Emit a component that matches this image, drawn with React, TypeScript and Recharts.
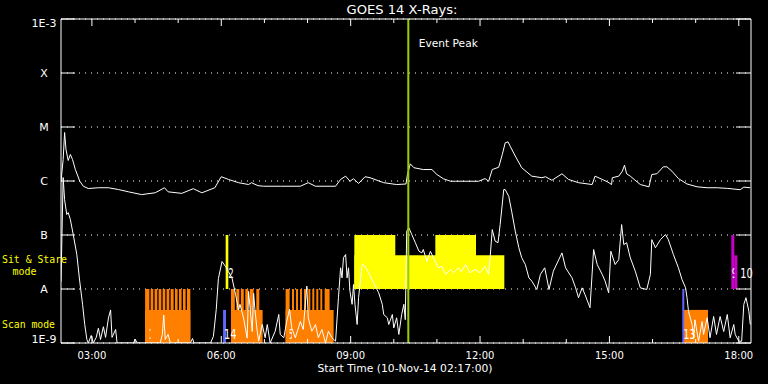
import React from 'react';
import {
  ComposedChart,
  Line,
  XAxis,
  YAxis,
  CartesianGrid,
  ReferenceArea,
  ReferenceLine,
} from 'recharts';

// ---------- data (time in minutes of day, flux in W/m^2) ----------
const hourTicks = [180, 240, 300, 360, 420, 480, 540, 600, 660, 720, 780, 840, 900, 960, 1020, 1080];
const majorTicks = [180, 360, 540, 720, 900, 1080];
const majorLabels = ['03:00', '06:00', '09:00', '12:00', '15:00', '18:00'];
const fluxTicks = [1e-9, 1e-8, 1e-7, 1e-6, 1e-5, 1e-4, 1e-3];
const fluxLabels = ['1E-9', 'A', 'B', 'C', 'M', 'X', '1E-3'];
const eventPeak = 620.2;

const longChannel: [number, number][] = [
  [137, 9.8e-7], [140, 2.5e-6], [142, 7.9e-6], [144, 3.8e-6], [147, 2.4e-6], [150, 3.1e-6], [153, 2.5e-6], [157, 1.63e-6], [163, 1.0e-6], [168, 8.0e-7],
  [175, 7.25e-7], [189, 7.5e-7], [203, 7.5e-7], [217, 6.95e-7], [231, 6.3e-7], [249, 5.6e-7], [268, 6.05e-7], [281, 7.5e-7], [286, 6.3e-7], [305, 5.9e-7],
  [321, 7.2e-7], [333, 6.05e-7], [351, 7.5e-7], [360, 1.2e-6], [370, 1.07e-6], [384, 9.3e-7], [398, 8.6e-7], [402, 9.3e-7], [411, 8.2e-7], [419, 8.0e-7],
  [442, 8.0e-7], [470, 8.0e-7], [481, 9.3e-7], [491, 8.0e-7], [519, 8.0e-7], [526, 1.07e-6], [533, 1.23e-6], [539, 9.9e-7], [544, 1.1e-6], [551, 9.0e-7],
  [560, 1.2e-6], [567, 1.15e-6], [586, 9.3e-7], [604, 8.6e-7], [617, 8.8e-7], [619, 1.32e-6], [623, 2.08e-6], [628, 1.76e-6], [641, 1.63e-6], [653, 1.63e-6],
  [660, 1.32e-6], [669, 1.1e-6], [679, 9.9e-7], [686, 9.9e-7], [718, 9.9e-7], [727, 1.11e-6], [732, 9.9e-7], [737, 1.63e-6], [746, 1.8e-6], [751, 3.1e-6],
  [755, 5.1e-6], [759, 5.3e-6], [762, 4.4e-6], [769, 2.9e-6], [778, 1.76e-6], [792, 1.23e-6], [806, 1.15e-6], [811, 1.2e-6], [820, 1.03e-6], [834, 1.36e-6],
  [843, 1.07e-6], [857, 9.3e-7], [876, 8.6e-7], [880, 1.23e-6], [890, 1.07e-6], [897, 9.7e-7], [903, 8.6e-7], [904, 1.15e-6], [913, 1.23e-6], [918, 1.52e-6],
  [921, 1.96e-6], [924, 1.36e-6], [929, 1.23e-6], [943, 8.6e-7], [955, 7.8e-7], [959, 1.32e-6], [966, 1.36e-6], [975, 1.83e-6], [980, 1.83e-6], [987, 1.52e-6],
  [996, 1.11e-6], [1008, 8.8e-7], [1022, 7.8e-7], [1036, 7.5e-7], [1050, 7.5e-7], [1064, 7.3e-7], [1082, 6.9e-7], [1087, 7.7e-7], [1096, 7.5e-7],
];

const shortChannel: [number, number][] = [
  [137, 1.38e-8], [140, 1.16e-6], [142, 4.5e-7], [145, 2.4e-7], [147, 2.6e-7], [150, 1.94e-7], [154, 1.02e-7], [159, 4.35e-8], [163, 1.4e-8], [167, 5.2e-9],
  [170, 2.2e-9], [173, 1.16e-9], [175, 1e-9], [179, 1.38e-9], [182, 1e-9], [186, 1.27e-9], [189, 1.88e-9], [192, 1.16e-9], [196, 2.0e-9], [199, 1.27e-9],
  [203, 2.9e-9], [206, 4.1e-9], [208, 1.27e-9], [213, 1.78e-9], [215, 1e-9], [238, 1e-9], [240, 1.18e-9], [243, 1e-9], [275, 1e-9], [278, 1.44e-9],
  [280, 3.3e-9], [282, 1.16e-9], [286, 1.44e-9], [289, 1e-9], [317, 1e-9], [320, 1.21e-9], [322, 1e-9], [345, 1e-9], [349, 1.32e-9], [353, 4.2e-9],
  [356, 1.56e-8], [361, 3.23e-8], [366, 2.6e-8], [370, 2.1e-8], [375, 1.58e-8], [380, 7.8e-9], [384, 4.1e-9], [386, 5.2e-9], [391, 2.9e-9], [396, 1.23e-9],
  [398, 9.0e-9], [403, 1.63e-9], [405, 8.3e-9], [407, 3.9e-9], [410, 1.65e-9], [412, 1.08e-9], [417, 2.2e-9], [421, 1.25e-9], [424, 2.2e-9], [428, 1e-9],
  [435, 1.65e-9], [440, 3.37e-9], [442, 1.44e-9], [447, 1.25e-9], [451, 2.5e-9], [455, 4.2e-9], [458, 1.9e-9], [463, 1.25e-9], [470, 2.5e-9], [474, 1.78e-9],
  [479, 1.13e-8], [481, 2.9e-9], [486, 1.65e-9], [491, 2.2e-9], [495, 1.25e-9], [500, 1.78e-9], [505, 1e-9], [509, 1.65e-9], [514, 1.25e-9], [519, 1.08e-9],
  [523, 6.9e-9], [526, 2.47e-8], [528, 1.61e-8], [530, 3.8e-8], [533, 4.35e-8], [535, 1.61e-8], [537, 2.47e-8], [539, 9.1e-9], [542, 5.2e-9], [544, 1.21e-8],
  [546, 5.2e-9], [549, 2.2e-9], [551, 6.9e-9], [556, 2.84e-8], [560, 2.64e-8], [565, 2.0e-8], [572, 1.3e-8], [579, 8.5e-9], [584, 5.2e-9], [586, 3.37e-9],
  [591, 2.93e-9], [593, 2.2e-9], [598, 3.37e-9], [600, 1.9e-9], [604, 2.93e-9], [607, 1.44e-9], [611, 3.37e-9], [614, 5.2e-9], [616, 2.7e-9], [618, 1.18e-7],
  [621, 1.36e-7], [625, 1.02e-7], [630, 7.2e-8], [635, 5.0e-8], [639, 4.67e-8], [641, 5.4e-8], [646, 3.27e-8], [651, 5.0e-8], [655, 3.8e-8], [662, 2.47e-8],
  [667, 2.64e-8], [672, 1.86e-8], [679, 2.3e-8], [683, 2.0e-8], [690, 2.47e-8], [694, 2.1e-8], [700, 2.84e-8], [706, 2.0e-8], [713, 2.3e-8], [720, 2.0e-8],
  [727, 2.64e-8], [732, 1.86e-8], [734, 3.8e-8], [737, 1.26e-7], [741, 7.7e-8], [745, 7.2e-8], [748, 1.56e-7], [753, 6.95e-7], [755, 6.95e-7], [760, 5.2e-7],
  [764, 2.76e-7], [769, 1.18e-7], [774, 5.8e-8], [778, 3.8e-8], [783, 2.84e-8], [788, 1.61e-8], [792, 1.4e-8], [799, 9.8e-9], [804, 1.86e-8], [810, 2.47e-8],
  [816, 9.8e-9], [822, 2.14e-8], [834, 4.67e-8], [839, 2.47e-8], [848, 1.61e-8], [853, 1.05e-8], [857, 6.9e-9], [862, 1.05e-8], [866, 7.9e-9], [873, 4.5e-9],
  [878, 5.4e-8], [883, 2.84e-8], [890, 1.86e-8], [894, 1.4e-8], [899, 8.5e-9], [902, 5.0e-8], [908, 2.84e-8], [913, 3.5e-8], [917, 1.56e-7], [920, 6.65e-8],
  [924, 7.2e-8], [929, 3.8e-8], [936, 2.14e-8], [943, 1.05e-8], [952, 9.8e-9], [957, 1.86e-8], [959, 8.2e-8], [964, 5.8e-8], [971, 8.2e-8], [978, 1.02e-7],
  [982, 8.2e-8], [989, 4.35e-8], [996, 2.47e-8], [1001, 1.5e-8], [1006, 1.05e-8], [1008, 6.9e-9], [1010, 3.9e-9], [1015, 2.2e-9], [1017, 1.25e-9], [1019, 2.7e-9],
  [1024, 1.08e-9], [1029, 2.5e-9], [1031, 1.44e-9], [1036, 2.93e-9], [1040, 1.25e-9], [1045, 3.1e-9], [1049, 1.44e-9], [1054, 3.1e-9], [1059, 1.63e-9], [1064, 3.37e-9],
  [1068, 1.25e-9], [1073, 2.2e-9], [1075, 1.44e-9], [1080, 1.08e-9], [1084, 1.08e-9], [1087, 5.2e-9], [1090, 6.9e-9], [1094, 3.9e-9], [1096, 2.2e-9],
];

// Scan mode: base blocks (to scanBaseLevel) and raster pillars (to A level)
const scanBaseLevel = 4.1e-9;
const scanBases: [number, number, string][] = [
  [254, 317, '0'],
  [373.5, 417.5, ''],
  [449.5, 516.3, '5'],
  [1003.2, 1037.2, ''],
];
const scanPillars: [number, number][] = [
  [254, 260], [261.7, 265.4], [267.2, 271], [272.8, 276.6], [278.4, 282.1], [283.9, 287.7],
  [289.5, 293.7], [295.6, 299.2], [301.2, 304.8], [306.7, 310.4], [312.3, 316.9],
  [373.5, 378.8], [380.9, 385.1], [387.2, 391.3], [393.4, 397.6], [399.7, 405], [408.7, 412.9],
  [449.5, 455.1], [458.4, 461.2], [464, 466.8], [469.5, 472.3], [475.1, 477.9], [481.1, 483.9],
  [486.6, 489.4], [492.2, 495], [497.8, 500.5], [503.8, 510.7],
];
// [start, end, low flux, high flux, label]
const blueBars: [number, number, number, number, string][] = [
  [362.5, 366.6, 1e-9, 4.1e-9, '14'],
  [1001.4, 1004.2, 1e-9, 1e-8, '13'],
];
const sitStareBars: [number, number, number, number, string][] = [
  [545.1, 753.8, 1e-8, 4.2e-8, '6'],
  [545.1, 602.1, 1e-8, 1e-7, ''],
  [657.8, 714.4, 1e-8, 1e-7, ''],
  [366.1, 369.8, 1e-8, 1e-7, '2'],
];
const magentaBars: [number, number, number, number, string][] = [
  [1069.6, 1073.8, 1e-8, 1e-7, '9'],
  [1073.8, 1078, 1e-8, 4.2e-8, '10'],
];

const longData = longChannel.map(([t, f]) => ({ t, f }));
const shortData = shortChannel.map(([t, f]) => ({ t, f }));

// ---------- layout / style ----------
const FONT = "'DejaVu Sans', sans-serif";
const MONO = "'DejaVu Sans Mono', monospace";
const W = 768;
const H = 384;
const PLOT_TOP = 19;
const PLOT_BOTTOM = 343;
const PLOT_LEFT = 61;
const PLOT_RIGHT = 751;
const ORANGE = '#ff8000';
const YELLOW = '#ffff00';
const BLUE = '#6464ff';
const MAGENTA = '#c800c8';
const EVENT = '#9acd00';

const BottomTick = (p: any) => {
  const { x, payload } = p;
  const i = majorTicks.indexOf(payload.value);
  const major = i >= 0;
  return (
    <g>
      <line x1={x} x2={x} y1={PLOT_BOTTOM} y2={PLOT_BOTTOM - (major ? 7 : 4)} stroke="#fff" />
      {major && (
        <text x={x} y={358.5} textAnchor="middle" fill="#ffffff" stroke="none" fontSize={10} fontFamily={FONT}>
          {majorLabels[i]}
        </text>
      )}
    </g>
  );
};

const TopTick = (p: any) => {
  const { x, payload } = p;
  const major = majorTicks.indexOf(payload.value) >= 0;
  return <line x1={x} x2={x} y1={PLOT_TOP} y2={PLOT_TOP + (major ? 7 : 4)} stroke="#fff" />;
};

const LeftTick = (p: any) => {
  const { y, payload } = p;
  const i = fluxTicks.indexOf(payload.value);
  const label = fluxLabels[i];
  const dy = i === fluxTicks.length - 1 ? 8 : i === 0 ? 0 : 4;
  return (
    <g>
      <line x1={PLOT_LEFT} x2={PLOT_LEFT + 14} y1={y} y2={y} stroke="#fff" />
      <text x={44} y={y + dy} textAnchor="middle" fill="#ffffff" stroke="none" fontSize={11} fontFamily={FONT}>
        {label}
      </text>
    </g>
  );
};

const RightTick = (p: any) => {
  const { y } = p;
  return <line x1={PLOT_RIGHT - 15} x2={PLOT_RIGHT} y1={y} y2={y} stroke="#fff" />;
};

const barLabel = (text: string, dx: number, up: number) => (props: any) => {
  const vb = props.viewBox;
  if (!vb || !text) return null;
  return (
    <text x={vb.x + dx} y={vb.y + vb.height - up} fill="#ffffff" stroke="none" fontSize={14} fontFamily={FONT}
      textLength={text.length * 7 - 1.5} lengthAdjust="spacingAndGlyphs">
      {text}
    </text>
  );
};

const titleLabel = () => (
  <text x={402} y={14} textAnchor="middle" fill="#ffffff" fontSize={12} fontFamily={FONT} textLength={111} lengthAdjust="spacingAndGlyphs">
    GOES 14 X-Rays:
  </text>
);

const xLabel = () => (
  <text x={405} y={372} textAnchor="middle" fill="#ffffff" fontSize={10.5} fontFamily={FONT} textLength={175} lengthAdjust="spacingAndGlyphs">
    Start Time (10-Nov-14 02:17:00)
  </text>
);

const modeLabels = () => (
  <g>
    <text x={2} y={262.5} fill={YELLOW} fontSize={10.5} fontFamily={MONO} textLength={65} lengthAdjust="spacingAndGlyphs">Sit &amp; Stare</text>
    <text x={12.5} y={274.7} fill={YELLOW} fontSize={10.5} fontFamily={MONO} textLength={24} lengthAdjust="spacingAndGlyphs">mode</text>
    <text x={2} y={328} fill={YELLOW} fontSize={10.5} fontFamily={MONO} textLength={53} lengthAdjust="spacingAndGlyphs">Scan mode</text>
  </g>
);

const eventLabel = (props: any) => {
  const vb = props.viewBox;
  if (!vb) return null;
  return (
    <text x={vb.x + 10.5} y={vb.y + 27.5} fill="#ffffff" fontSize={11} fontFamily={FONT} textLength={59} lengthAdjust="spacingAndGlyphs">
      Event Peak
    </text>
  );
};

export default function App() {
  return (
    <div style={{ position: 'fixed', left: 0, top: 0, width: W, height: H, background: '#000' }}>
      <ComposedChart width={W} height={H} margin={{ top: 0, right: 0, bottom: 0, left: 0 }}>
        <XAxis
          xAxisId="b"
          type="number"
          dataKey="t"
          domain={[137, 1097]}
          allowDataOverflow
          ticks={hourTicks}
          interval={0}
          height={41}
          axisLine={{ stroke: '#fff' }}
          tickLine={false}
          tick={(p: any) => <BottomTick {...p} />}
          label={xLabel}
        />
        <XAxis
          xAxisId="t"
          orientation="top"
          type="number"
          dataKey="t"
          domain={[137, 1097]}
          allowDataOverflow
          ticks={hourTicks}
          interval={0}
          height={19}
          axisLine={{ stroke: '#fff' }}
          tickLine={false}
          tick={(p: any) => <TopTick {...p} />}
          label={titleLabel}
        />
        <YAxis
          yAxisId="l"
          type="number"
          scale="log"
          domain={[1e-9, 1e-3]}
          allowDataOverflow
          ticks={fluxTicks}
          interval={0}
          width={61}
          axisLine={{ stroke: '#fff' }}
          tickLine={false}
          tick={(p: any) => <LeftTick {...p} />}
          label={modeLabels}
        />
        <YAxis
          yAxisId="r"
          orientation="right"
          type="number"
          scale="log"
          domain={[1e-9, 1e-3]}
          allowDataOverflow
          ticks={fluxTicks}
          interval={0}
          width={17}
          axisLine={{ stroke: '#fff' }}
          tickLine={false}
          tick={(p: any) => <RightTick {...p} />}
        />
        <CartesianGrid xAxisId="b" yAxisId="l" vertical={false} stroke="#fff" strokeDasharray="1 5" />

        {scanBases.map(([a, b, txt], i) => (
          <ReferenceArea key={`sb${i}`} xAxisId="b" yAxisId="l" x1={a} x2={b} y1={1e-9} y2={scanBaseLevel}
            fill={ORANGE} fillOpacity={1} stroke="none" label={barLabel(txt, 2.5, 4.5)} />
        ))}
        {scanPillars.map(([a, b], i) => (
          <ReferenceArea key={`sp${i}`} xAxisId="b" yAxisId="l" x1={a} x2={b} y1={1e-9} y2={1e-8}
            fill={ORANGE} fillOpacity={1} stroke="none" />
        ))}
        {sitStareBars.map(([a, b, lo, hi, txt], i) => (
          <ReferenceArea key={`ss${i}`} xAxisId="b" yAxisId="l" x1={a} x2={b} y1={lo} y2={hi}
            fill={YELLOW} fillOpacity={1} stroke="none" label={barLabel(txt, 2.5, 11)} />
        ))}
        {blueBars.map(([a, b, lo, hi, txt], i) => (
          <ReferenceArea key={`bl${i}`} xAxisId="b" yAxisId="l" x1={a} x2={b} y1={lo} y2={hi}
            fill={BLUE} fillOpacity={1} stroke="none" label={barLabel(txt, 1, 4.5)} />
        ))}
        {magentaBars.map(([a, b, lo, hi, txt], i) => (
          <ReferenceArea key={`mg${i}`} xAxisId="b" yAxisId="l" x1={a} x2={b} y1={lo} y2={hi}
            fill={MAGENTA} fillOpacity={1} stroke="none" label={barLabel(txt, i === 0 ? 0.5 : 6, 11)} />
        ))}

        <Line xAxisId="b" yAxisId="l" data={longData} dataKey="f" type="linear" stroke="#fff" strokeWidth={1}
          dot={false} activeDot={false} isAnimationActive={false} />
        <Line xAxisId="b" yAxisId="l" data={shortData} dataKey="f" type="linear" stroke="#fff" strokeWidth={1}
          dot={false} activeDot={false} isAnimationActive={false} />

        <ReferenceLine xAxisId="b" yAxisId="l" x={eventPeak} stroke={EVENT} strokeWidth={2} label={eventLabel} />
      </ComposedChart>
    </div>
  );
}
